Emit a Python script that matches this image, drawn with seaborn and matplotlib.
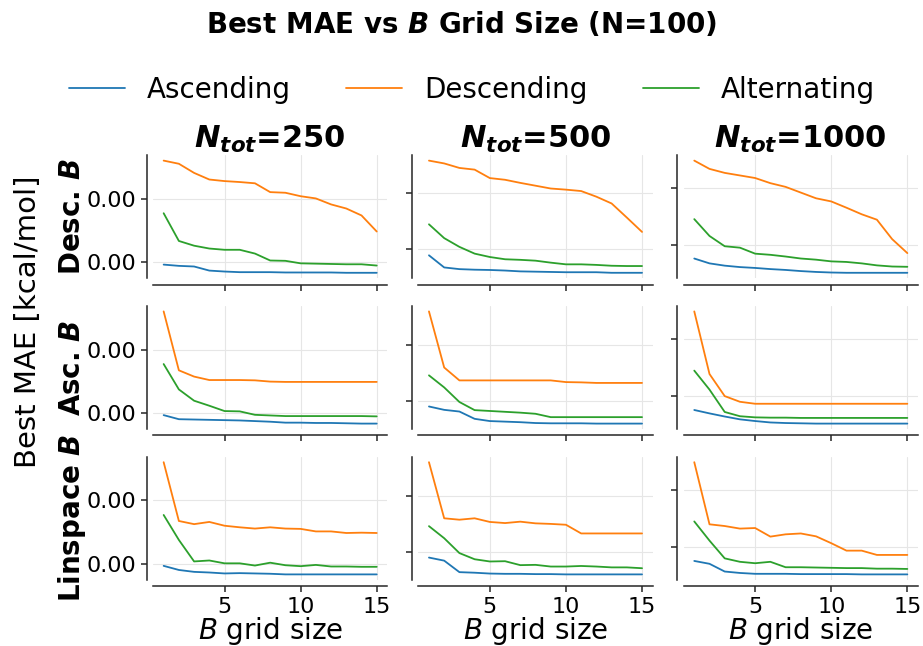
import numpy as np
import pandas as pd
import matplotlib
matplotlib.use("Agg")
import matplotlib.pyplot as plt
from matplotlib.ticker import FormatStrFormatter
import seaborn as sns

# ---- data (Best MAE, in 1e-3 kcal/mol) ----
B_SIZES = list(range(1, 16))
N_TOTS = [250, 500, 1000]
ROW_LABELS = [r"Desc. $\mathbfit{B}$", r"Asc. $\mathbfit{B}$", r"Linspace $\mathbfit{B}$"]
SERIES = ["Ascending", "Descending", "Alternating"]
MAE_UNIT = 1e-3
Y_TICKS = [0.002, 0.004]

# Row: Desc. B
desc_250_ascending = [1.91, 1.87, 1.85, 1.72, 1.69, 1.67, 1.67, 1.67, 1.66, 1.66, 1.66, 1.66, 1.65, 1.65, 1.65]
desc_250_descending = [5.21, 5.11, 4.82, 4.61, 4.56, 4.53, 4.49, 4.21, 4.19, 4.08, 4.01, 3.82, 3.69, 3.47, 2.96]
desc_250_alternating = [3.54, 2.66, 2.51, 2.42, 2.38, 2.38, 2.26, 2.04, 2.03, 1.95, 1.94, 1.93, 1.92, 1.92, 1.88]

desc_500_ascending = [1.78, 1.35, 1.29, 1.27, 1.26, 1.24, 1.21, 1.20, 1.19, 1.18, 1.18, 1.18, 1.16, 1.16, 1.16]
desc_500_descending = [5.14, 5.04, 4.88, 4.82, 4.52, 4.46, 4.35, 4.25, 4.15, 4.11, 4.06, 3.86, 3.62, 3.12, 2.61]
desc_500_alternating = [2.88, 2.39, 2.08, 1.84, 1.72, 1.64, 1.62, 1.59, 1.52, 1.46, 1.46, 1.44, 1.41, 1.40, 1.40]

desc_1000_ascending = [1.52, 1.35, 1.27, 1.22, 1.19, 1.15, 1.12, 1.08, 1.05, 1.03, 1.02, 1.02, 1.02, 1.02, 1.02]
desc_1000_descending = [4.95, 4.66, 4.52, 4.43, 4.34, 4.16, 4.03, 3.83, 3.63, 3.52, 3.30, 3.07, 2.88, 2.20, 1.71]
desc_1000_alternating = [2.90, 2.31, 1.95, 1.90, 1.69, 1.65, 1.59, 1.52, 1.48, 1.42, 1.40, 1.35, 1.28, 1.24, 1.23]

# Row: Asc. B
asc_250_ascending = [1.92, 1.79, 1.78, 1.77, 1.76, 1.75, 1.73, 1.71, 1.68, 1.68, 1.67, 1.67, 1.66, 1.65, 1.65]
asc_250_descending = [5.23, 3.35, 3.15, 3.04, 3.04, 3.04, 3.03, 2.99, 2.98, 2.98, 2.98, 2.98, 2.98, 2.98, 2.98]
asc_250_alternating = [3.55, 2.74, 2.38, 2.22, 2.05, 2.04, 1.93, 1.91, 1.89, 1.89, 1.89, 1.89, 1.89, 1.89, 1.88]

asc_500_ascending = [1.80, 1.68, 1.62, 1.36, 1.28, 1.26, 1.24, 1.21, 1.20, 1.20, 1.20, 1.19, 1.19, 1.19, 1.19]
asc_500_descending = [5.19, 3.19, 2.73, 2.73, 2.73, 2.73, 2.73, 2.73, 2.73, 2.67, 2.66, 2.64, 2.64, 2.64, 2.64]
asc_500_alternating = [2.91, 2.48, 1.96, 1.67, 1.64, 1.61, 1.58, 1.54, 1.42, 1.42, 1.42, 1.42, 1.42, 1.42, 1.42]

asc_1000_ascending = [1.49, 1.37, 1.26, 1.16, 1.10, 1.05, 1.03, 1.02, 1.01, 1.01, 1.01, 1.01, 1.01, 1.01, 1.01]
asc_1000_descending = [4.97, 2.76, 1.98, 1.78, 1.71, 1.71, 1.71, 1.71, 1.71, 1.71, 1.71, 1.71, 1.71, 1.71, 1.71]
asc_1000_alternating = [2.88, 2.21, 1.42, 1.27, 1.23, 1.22, 1.22, 1.21, 1.21, 1.21, 1.21, 1.21, 1.21, 1.21, 1.21]

# Row: Linspace B
lin_250_ascending = [1.93, 1.80, 1.74, 1.72, 1.69, 1.70, 1.69, 1.68, 1.66, 1.66, 1.66, 1.66, 1.66, 1.66, 1.66]
lin_250_descending = [5.21, 3.35, 3.25, 3.32, 3.20, 3.15, 3.11, 3.15, 3.11, 3.10, 3.02, 3.02, 2.97, 2.98, 2.97]
lin_250_alternating = [3.54, 2.75, 2.07, 2.10, 2.01, 2.01, 1.94, 2.03, 1.95, 1.92, 1.96, 1.91, 1.91, 1.90, 1.90]

lin_500_ascending = [1.79, 1.68, 1.27, 1.25, 1.22, 1.21, 1.21, 1.20, 1.20, 1.19, 1.19, 1.19, 1.19, 1.19, 1.19]
lin_500_descending = [5.19, 3.19, 3.14, 3.19, 3.06, 3.02, 3.07, 3.01, 2.99, 2.96, 2.65, 2.65, 2.65, 2.65, 2.65]
lin_500_alternating = [2.91, 2.48, 1.95, 1.73, 1.65, 1.66, 1.52, 1.53, 1.47, 1.47, 1.49, 1.47, 1.44, 1.44, 1.41]

lin_1000_ascending = [1.51, 1.41, 1.14, 1.09, 1.06, 1.06, 1.06, 1.05, 1.05, 1.05, 1.05, 1.04, 1.04, 1.04, 1.04]
lin_1000_descending = [4.96, 2.79, 2.73, 2.64, 2.66, 2.36, 2.44, 2.47, 2.37, 2.13, 1.87, 1.87, 1.72, 1.72, 1.72]
lin_1000_alternating = [2.89, 2.22, 1.60, 1.48, 1.43, 1.48, 1.29, 1.29, 1.28, 1.27, 1.26, 1.26, 1.24, 1.24, 1.23]

PANELS = [
    [(desc_250_ascending, desc_250_descending, desc_250_alternating),
     (desc_500_ascending, desc_500_descending, desc_500_alternating),
     (desc_1000_ascending, desc_1000_descending, desc_1000_alternating)],
    [(asc_250_ascending, asc_250_descending, asc_250_alternating),
     (asc_500_ascending, asc_500_descending, asc_500_alternating),
     (asc_1000_ascending, asc_1000_descending, asc_1000_alternating)],
    [(lin_250_ascending, lin_250_descending, lin_250_alternating),
     (lin_500_ascending, lin_500_descending, lin_500_alternating),
     (lin_1000_ascending, lin_1000_descending, lin_1000_alternating)],
]

# ---- style ----
sns.set_theme(style="ticks")
plt.rcParams["font.family"] = ["DejaVu Sans"]
plt.rcParams["mathtext.fontset"] = "dejavusans"
plt.rcParams["text.color"] = "black"
plt.rcParams["axes.labelcolor"] = "black"
plt.rcParams["xtick.color"] = "#262626"
plt.rcParams["ytick.color"] = "#262626"
plt.rcParams["xtick.labelcolor"] = "black"
plt.rcParams["ytick.labelcolor"] = "black"
palette = dict(zip(SERIES, sns.color_palette("tab10", 3)))

fig, axes = plt.subplots(3, 3, figsize=(9.23, 6.46), dpi=100, sharex=True)
fig.subplots_adjust(left=153 / 923, right=918 / 923, bottom=1 - 580 / 646,
                    top=1 - 155 / 646, wspace=0.132, hspace=0.222)

for r in range(3):
    for c in range(3):
        ax = axes[r, c]
        rows = []
        for name, vals in zip(SERIES, PANELS[r][c]):
            for b, v in zip(B_SIZES, vals):
                rows.append({"B": b, "MAE": v * MAE_UNIT, "Order": name})
        df = pd.DataFrame(rows)
        sns.lineplot(data=df, x="B", y="MAE", hue="Order", hue_order=SERIES,
                     palette=palette, linewidth=1.3, ax=ax, legend=(r == 0 and c == 0))
        ax.grid(True, color="#e6e6e6", linewidth=0.8)
        ax.set_axisbelow(True)
        ax.set_xticks([5, 10, 15])
        ax.set_yticks(Y_TICKS)
        ax.yaxis.set_major_formatter(FormatStrFormatter("%.2f"))
        ax.tick_params(axis="both", which="major", direction="out", length=4.5,
                       width=1.1, labelsize=16, pad=3, bottom=True, left=True)
        for sp in ax.spines.values():
            sp.set_color("#262626")
            sp.set_linewidth(1.1)
        ax.set_xlabel("")
        ax.set_ylabel("")
        if c != 0:
            ax.tick_params(axis="y", labelleft=False)
        if r == 2:
            ax.set_xlabel(r"$B$ grid size", fontsize=20, labelpad=-1)
        else:
            ax.tick_params(axis="x", labelbottom=False)
        if r == 0:
            ax.set_title(r"$\mathbfit{N_{tot}}$=" + str(N_TOTS[c]), fontsize=22,
                         fontweight="bold", pad=5)
        sns.despine(ax=ax, offset=4.5)

# legend
handles, labels = axes[0, 0].get_legend_handles_labels()
axes[0, 0].get_legend().remove()
fig.legend(handles, labels, loc="center", bbox_to_anchor=(472 / 923, 1 - 90 / 646), ncol=3,
           frameon=False, fontsize=20, handlelength=2.0, columnspacing=2.0,
           handletextpad=0.8)

# row labels
for r in range(3):
    pos = axes[r, 0].get_position()
    fig.text(72 / 923, (pos.y0 + pos.y1) / 2, ROW_LABELS[r], rotation=90,
             ha="center", va="center", fontsize=20, fontweight="bold")

fig.text(28 / 923, 1 - 322 / 646, "Best MAE [kcal/mol]", rotation=90,
         ha="center", va="center", fontsize=21)

fig.suptitle(r"Best MAE vs $\mathbfit{B}$ Grid Size (N=100)", fontsize=20,
             fontweight="bold", y=1 - 25 / 646, va="center")

fig.savefig("out.png", dpi=100)
